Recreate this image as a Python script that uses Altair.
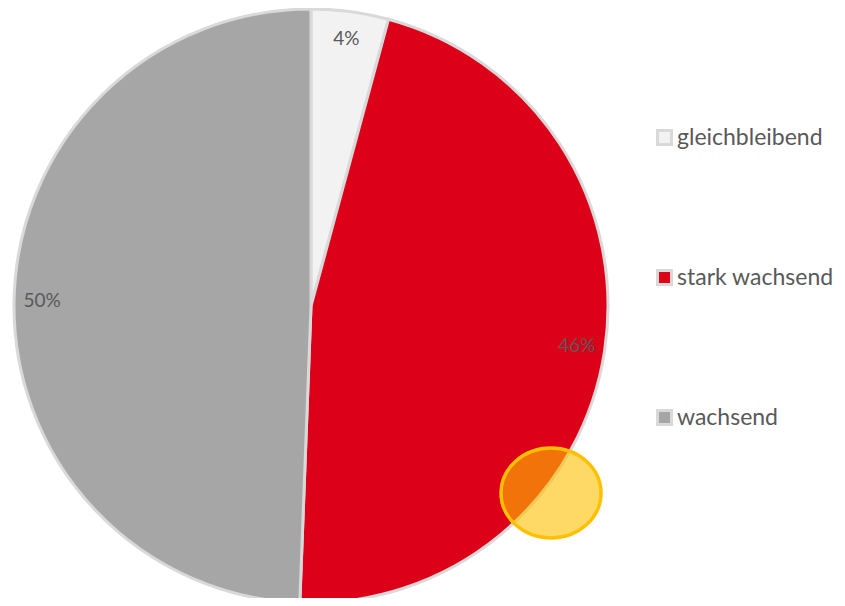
import altair as alt
import pandas as pd

categories = ["gleichbleibend", "stark wachsend", "wachsend"]
values = [4.2, 46.4, 49.4]
labels = ["4%", "46%", "50%"]
colors = ["#f2f2f2", "#dc0019", "#a6a6a6"]

df = pd.DataFrame({"cat": categories, "value": values, "label": labels, "ord": [0, 1, 2]})

CX, CY, R = 303, 298, 297

base = alt.Chart(df).encode(
    theta=alt.Theta("value:Q", stack=True),
    order=alt.Order("ord:Q"),
)

pie = base.mark_arc(outerRadius=R, stroke="#d9d9d9", strokeWidth=3).encode(
    x=alt.value(CX), y=alt.value(CY),
    color=alt.Color("cat:N", scale=alt.Scale(domain=categories, range=colors),
                    legend=alt.Legend(title=None, orient="none", legendX=645, legendY=118,
                                      symbolType="square", symbolSize=196,
                                      symbolStrokeColor="#d9d9d9", symbolStrokeWidth=3,
                                      labelFont="Lato", labelFontSize=23, labelColor="#595959",
                                      labelOffset=1, labelLimit=400, rowPadding=113, padding=0)),
)

text = base.mark_text(radius=269, font="Lato", fontSize=19, color="#595959").encode(
    x=alt.value(CX), y=alt.value(CY),
    text="label:N",
)

ellipse = alt.Chart(pd.DataFrame({"a": [0]})).mark_point(
    shape="M -1 0 A 1 0.9 0 1 0 1 0 A 1 0.9 0 1 0 -1 0 Z",
    size=10000, filled=True, fill="#ffc000", fillOpacity=0.6,
    stroke="#ffc000", strokeOpacity=1, strokeWidth=3.5, opacity=1,
).encode(x=alt.value(543), y=alt.value(485))

chart = alt.layer(pie, text, ellipse).properties(
    width=829, height=590, padding=0,
    autosize=alt.AutoSizeParams(type="none"),
).configure_view(stroke=None)

chart.save("out.html", embed_options={"renderer": "svg", "actions": False})
